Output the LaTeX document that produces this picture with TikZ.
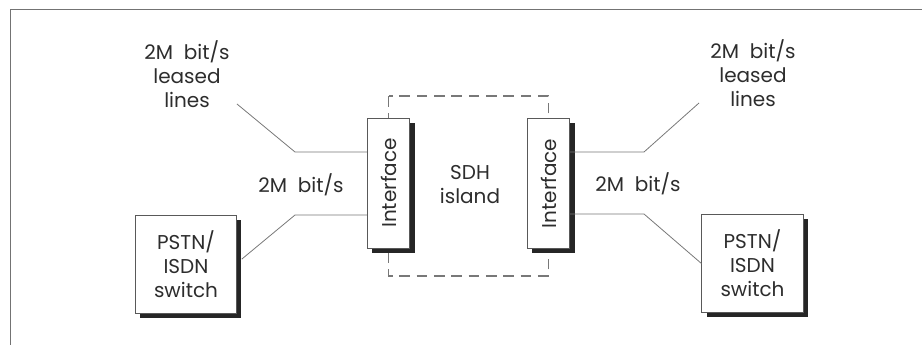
\documentclass[tikz,border=0pt]{standalone}
\usepackage{fontspec}
\setmainfont{Poppins}
\usepackage{tikz}
\usetikzlibrary{positioning, shadows, calc, backgrounds}
\definecolor{linegrey}{RGB}{120,120,120}
\definecolor{txtgrey}{RGB}{45,45,45}
\tikzset{
  switchbox/.style={
    draw=black!65, line width=0.6pt, fill=white,
    minimum width=76pt, minimum height=74pt,
    align=center, text=txtgrey, inner sep=2pt,
    font=\fontsize{15}{18}\selectfont,
    drop shadow={shadow xshift=3.5pt, shadow yshift=-3.5pt,
                 fill=black!85, opacity=1},
  },
  ifbox/.style={
    switchbox, rotate=90,
    minimum width=97.5pt, minimum height=32pt,
  },
  link/.style={draw=linegrey, line width=0.6pt},
  island/.style={draw=linegrey, line width=0.8pt, dash pattern=on 8pt off 5pt},
  lbl/.style={align=center, text=txtgrey, inner sep=1pt,
    font=\fontsize{15}{18}\selectfont},
}

\begin{document}
\begin{tikzpicture}[x=0.75pt, y=-0.75pt]
\useasboundingbox (0,0) rectangle (922,345);

% outer frame (cut by the page)
\draw[black!55, line width=0.7pt] (10,360) -- (10,9) -- (940,9);

% interfaces and SDH island
\node[ifbox] (lif) at (388.5,183) {Interface};
\node[ifbox] (rif) at (548.5,183.5) {Interface};
\node[lbl] (island) at (470,185) {SDH\\island};
\coordinate (islandtop) at (0,96);
\coordinate (islandbot) at (0,276);
\begin{scope}[on background layer]
  \draw[island] (lif.center |- islandtop) rectangle (rif.center |- islandbot);
\end{scope}

% switches
\node[switchbox] (lsw) at (186,264.5) {PSTN/\\ISDN\\switch};
\node[switchbox] (rsw) at (752.5,263.5) {PSTN/\\ISDN\\switch};

% labels
\node[lbl] (lleased) at (187,74) {2M\ \ bit/s\\leased\\lines};
\node[lbl] (rleased) at (753,73) {2M\ \ bit/s\\leased\\lines};
\node[lbl] (lrate) at (301,185) {2M\ \ bit/s};
\node[lbl] (rrate) at (638,184) {2M\ \ bit/s};

% connectors
\coordinate (ltip) at (237,104);
\coordinate (lbendA) at (295,152);
\coordinate (lbendB) at (295,215);
\coordinate (rtip) at (699,103);
\coordinate (rbendA) at (644,152);
\coordinate (rbendB) at (644,214);

\draw[link] (ltip) -- (lbendA) -- (lbendA -| lif.north);
\draw[link] ([xshift=3.5pt, yshift=4pt]lsw.east) -- (lbendB) -- (lbendB -| lif.north);
\draw[link] (rbendA -| rif.south) -- (rbendA) -- (rtip);
\draw[link] (rbendB -| rif.south) -- (rbendB) -- (rsw.west);

\end{tikzpicture}
\end{document}
